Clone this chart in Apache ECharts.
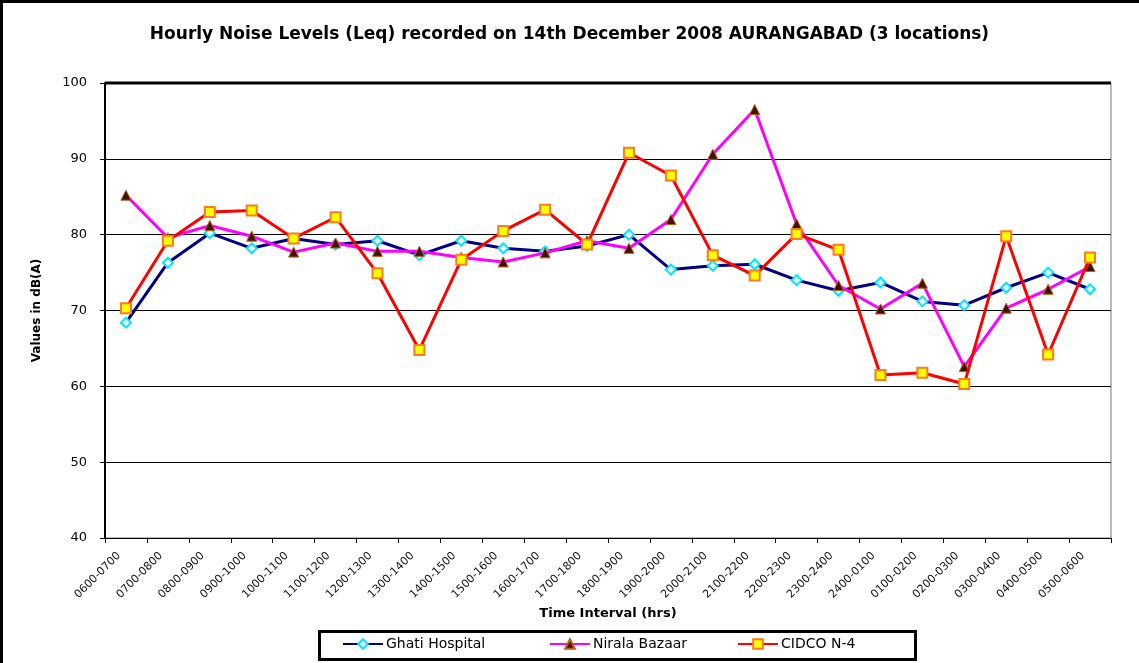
<!DOCTYPE html>
<html>
<head>
<meta charset="utf-8">
<script src="https://cdn.jsdelivr.net/npm/echarts@6/dist/echarts.min.js"></script>
<style>
html,body{margin:0;padding:0;background:#fff;}
#frame{position:absolute;left:0;top:0;width:1139px;height:663px;box-sizing:border-box;border-left:3px solid #000;border-top:3px solid #000;}
#chart{position:absolute;left:0;top:0;width:1139px;height:663px;}
</style>
</head>
<body>
<div id="chart"></div>
<div id="frame"></div>
<script>
const categories = ["0600-0700","0700-0800","0800-0900","0900-1000","1000-1100","1100-1200","1200-1300","1300-1400","1400-1500","1500-1600","1600-1700","1700-1800","1800-1900","1900-2000","2000-2100","2100-2200","2200-2300","2300-2400","2400-0100","0100-0200","0200-0300","0300-0400","0400-0500","0500-0600"];
const ghatiHospital = [68.4,76.3,80.2,78.2,79.5,78.7,79.2,77.3,79.2,78.2,77.8,78.5,80.0,75.4,75.9,76.1,74.0,72.6,73.7,71.2,70.7,73.0,75.0,72.8];
const niralaBazaar = [85.2,79.6,81.2,79.8,77.7,78.9,77.8,77.8,77.0,76.4,77.6,79.2,78.2,82.0,90.6,96.5,81.4,73.3,70.2,73.6,62.6,70.3,72.8,75.8];
const cidcoN4 = [70.3,79.2,83.0,83.2,79.5,82.3,74.9,64.8,76.7,80.5,83.3,78.7,90.8,87.8,77.3,74.6,80.1,78.0,61.5,61.8,60.3,79.8,64.2,77.0];
const seriesNames = ['Ghati Hospital','Nirala Bazaar','CIDCO N-4'];
const yTicks = {min:40, max:100, interval:10};

const font = '"DejaVu Sans", Verdana, sans-serif';
const legendLefts = [342, 549, 737];
const chart = echarts.init(document.getElementById('chart'), null, {renderer:'canvas'});
chart.setOption({
  backgroundColor:'#fff',
  animation:false,
  title:{
    text:'Hourly Noise Levels (Leq) recorded on 14th December 2008 AURANGABAD (3 locations)',
    left:'center', top:21,
    textStyle:{fontFamily:font, fontSize:17, fontWeight:'bold', color:'#000'}
  },
  grid:{left:105, right:28, top:83, bottom:125, show:true, borderColor:'#777', borderWidth:1, backgroundColor:'#fff'},
  legend: seriesNames.map((n,i)=>({
    left:legendLefts[i], top:637, padding:0,
    itemWidth:40, itemHeight:12, itemGap:0,
    textStyle:{fontFamily:font, fontSize:14, color:'#000', padding:[0,0,0,-2]},
    data:[n]
  })),
  xAxis:{
    type:'category', data:categories, boundaryGap:true,
    name:'Time Interval (hrs)', nameLocation:'middle', nameGap:68,
    nameTextStyle:{fontFamily:font, fontSize:13, fontWeight:'bold', color:'#000'},
    axisLine:{lineStyle:{color:'#000', width:1}},
    axisTick:{show:true, alignWithLabel:false, length:5, lineStyle:{color:'#000'}},
    axisLabel:{rotate:45, fontFamily:font, fontSize:11, color:'#111', margin:9, interval:0, padding:[0,10,0,0]},
    splitLine:{show:false}
  },
  yAxis:{
    type:'value', min:yTicks.min, max:yTicks.max, interval:yTicks.interval,
    name:'Values in dB(A)', nameLocation:'middle', nameGap:62, nameRotate:90,
    nameTextStyle:{fontFamily:font, fontSize:12, fontWeight:'bold', color:'#000'},
    axisLine:{show:true, lineStyle:{color:'#000', width:2}},
    axisTick:{show:true, length:5, lineStyle:{color:'#000'}},
    axisLabel:{fontFamily:font, fontSize:13, color:'#000', margin:18},
    splitLine:{show:true, lineStyle:{color:'#000', width:1}}
  },
  graphic:[
    {type:'line', shape:{x1:105,y1:83,x2:1111,y2:83}, style:{stroke:'#000', lineWidth:3}, z:100},
    {type:'rect', shape:{x:319.5,y:631.5,width:596,height:28}, style:{fill:'none', stroke:'#000', lineWidth:3}, z:100}
  ],
  series:[
    {name:seriesNames[0], type:'line', data:ghatiHospital,
     lineStyle:{color:'#000080', width:3}, itemStyle:{color:'#e8ffff', borderColor:'#00e5ff', borderWidth:2},
     symbol:'diamond', symbolSize:10, showAllSymbol:true, z:2},
    {name:seriesNames[1], type:'line', data:niralaBazaar,
     lineStyle:{color:'#ff00ff', width:3}, itemStyle:{color:'#3a1400', borderColor:'#c05a10', borderWidth:1},
     symbol:'triangle', symbolSize:10, showAllSymbol:true, z:3},
    {name:seriesNames[2], type:'line', data:cidcoN4,
     lineStyle:{color:'#ff0000', width:3}, itemStyle:{color:'#ffff00', borderColor:'#ff7a1a', borderWidth:2},
     symbol:'rect', symbolSize:10, showAllSymbol:true, z:4}
  ]
});
</script>
</body>
</html>
